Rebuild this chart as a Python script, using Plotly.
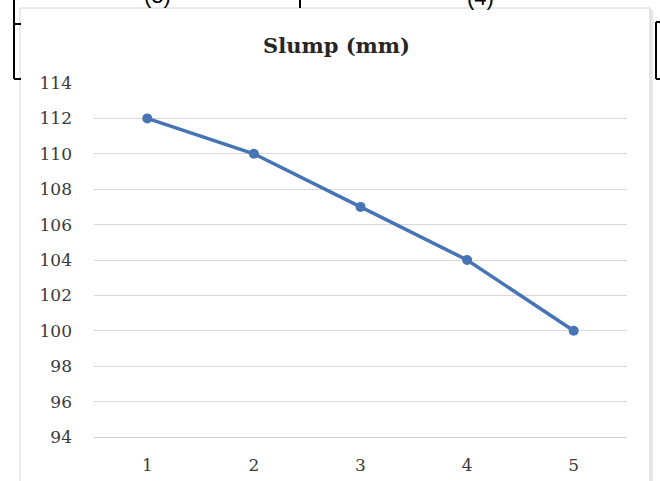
import plotly.graph_objects as go

# Data
categories = [1, 2, 3, 4, 5]
slump_mm = [112, 110, 107, 104, 100]
y_ticks = [94, 96, 98, 100, 102, 104, 106, 108, 110, 112, 114]

W, H = 660, 481
L, R, T, B = 94, 33, 83, 44
PW, PH = W - L - R, H - T - B

def px(x):
    return (x - L) / PW

def py(y):
    return (H - B - y) / PH

fig = go.Figure()
fig.add_trace(go.Scatter(
    x=categories, y=slump_mm, mode="lines+markers",
    line=dict(color="#4674B4", width=3.5),
    marker=dict(color="#4674B4", size=10),
    showlegend=False, hoverinfo="skip",
))

shapes = []
# shadow and chart box
shapes.append(dict(type="rect", xref="paper", yref="paper", layer="below",
                   x0=px(22), x1=px(653), y0=py(484), y1=py(10),
                   fillcolor="#e8e8e8", line=dict(width=0)))
shapes.append(dict(type="rect", xref="paper", yref="paper", layer="below",
                   x0=px(20), x1=px(650), y0=py(483), y1=py(8),
                   fillcolor="white", line=dict(color="#d4d4d4", width=1)))
# black table lines
blk = dict(color="black", width=2)
for (x0, y0, x1, y1) in [
    (14, 0, 14, 79), (14, 24, 21, 24), (14, 79, 21, 79),
    (656, 22, 656, 79), (656, 22, 660, 22), (656, 79, 660, 79),
    (300, 0, 300, 8),
]:
    shapes.append(dict(type="line", xref="paper", yref="paper", layer="above",
                       x0=px(x0), x1=px(x1), y0=py(y0), y1=py(y1), line=blk))

annotations = [
    dict(text="<b>Slump (mm)</b>", xref="paper", yref="paper",
         x=px(336), y=py(45), xanchor="center", yanchor="middle",
         showarrow=False, font=dict(family="DejaVu Serif", size=21, color="#262626")),
    dict(text="(3)", xref="paper", yref="paper", x=px(157), y=py(10),
         xanchor="center", yanchor="bottom", showarrow=False,
         font=dict(family="Liberation Sans", size=22, color="black")),
    dict(text="(4)", xref="paper", yref="paper", x=px(480), y=py(12),
         xanchor="center", yanchor="bottom", showarrow=False,
         font=dict(family="Liberation Sans", size=22, color="black")),
]

fig.update_layout(
    width=W, height=H,
    margin=dict(l=L, r=R, t=T, b=B, autoexpand=False),
    paper_bgcolor="white", plot_bgcolor="rgba(0,0,0,0)",
    shapes=shapes, annotations=annotations,
    xaxis=dict(range=[0.5, 5.5], tickvals=categories, ticktext=[str(c) for c in categories],
               showgrid=False, zeroline=False, showline=True, linecolor="#d0d0d0", linewidth=1,
               ticks="", ticklabelstandoff=13, automargin=False,
               tickfont=dict(family="DejaVu Serif", size=17, color="#3a3a3a")),
    yaxis=dict(range=[94, 114], tickvals=y_ticks, showgrid=True, gridcolor="#d9d9d9",
               gridwidth=1, zeroline=False, showline=False, ticks="", ticklabelstandoff=21,
               automargin=False,
               tickfont=dict(family="DejaVu Serif", size=17, color="#3a3a3a")),
)

fig.write_html("out.html")
